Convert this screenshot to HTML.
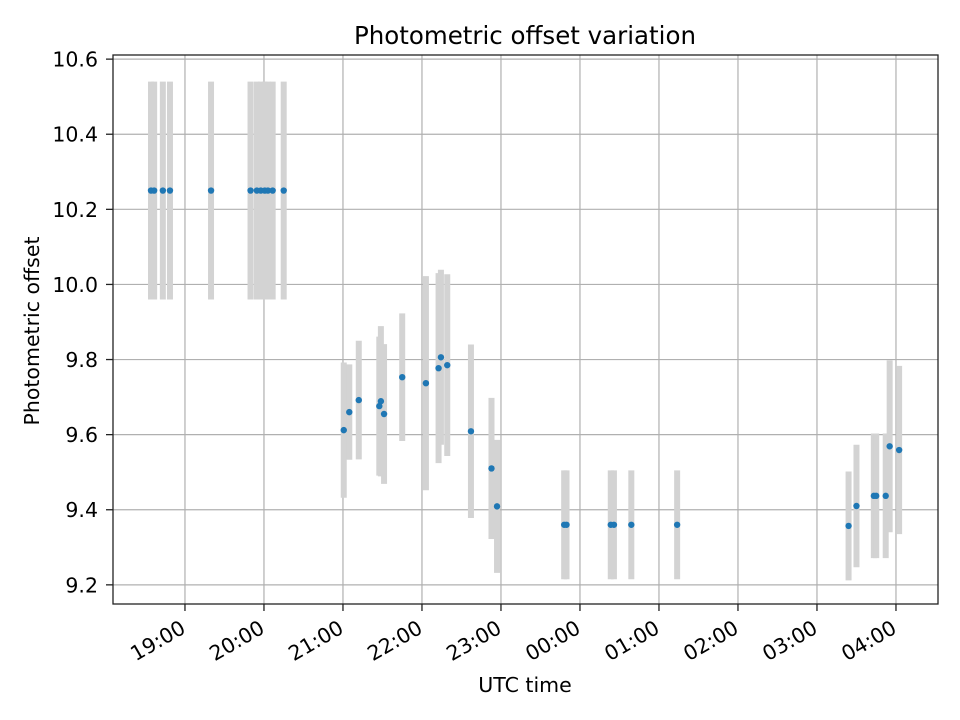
<!DOCTYPE html>
<html><head><meta charset="utf-8"><style>body{margin:0;background:#fff}svg{display:block;font-family:"DejaVu Sans","Liberation Sans",sans-serif}</style></head>
<body>
<svg id="chart" width="960" height="720" viewBox="0 0 960 720" xmlns="http://www.w3.org/2000/svg">
<rect width="960" height="720" fill="#fff"/>
<g id="grid"></g>
<g id="bars"></g>
<g id="pts"></g>
<rect x="113" y="55" width="825" height="549" fill="none" stroke="#222" stroke-width="1.3"/>
<g id="ticks"></g>
<text x="525" y="44" text-anchor="middle" font-size="24.5">Photometric offset variation</text>
<text x="525" y="692" text-anchor="middle" font-size="20.5">UTC time</text>
<text transform="translate(39,331) rotate(-90)" text-anchor="middle" font-size="20.5">Photometric offset</text>
</svg>
<script>
// times in hours since previous-day 00:00 (values >24 are after midnight)
const times=[18.57,18.61,18.72,18.81,19.33,19.83,19.91,19.96,20.01,20.05,20.11,20.25,
21.01,21.08,21.2,21.46,21.48,21.52,21.75,22.05,22.21,22.24,22.32,22.62,22.88,22.95,
23.8,23.83,24.39,24.43,24.65,25.23,
27.4,27.5,27.72,27.75,27.87,27.92,28.04];
const offsets=[10.25,10.25,10.25,10.25,10.25,10.25,10.25,10.25,10.25,10.25,10.25,10.25,
9.612,9.66,9.692,9.676,9.689,9.655,9.753,9.737,9.777,9.806,9.785,9.609,9.51,9.409,
9.36,9.36,9.36,9.36,9.36,9.36,
9.357,9.41,9.437,9.437,9.437,9.569,9.559];
const errors=[0.29,0.29,0.29,0.29,0.29,0.29,0.29,0.29,0.29,0.29,0.29,0.29,
0.18,0.127,0.158,0.185,0.2,0.186,0.17,0.285,0.253,0.233,0.242,0.231,0.188,0.177,
0.145,0.145,0.145,0.145,0.145,0.145,
0.145,0.163,0.166,0.166,0.166,0.229,0.224];
const xTickHours=[19,20,21,22,23,24,25,26,27,28];
const xTickLabels=["19:00","20:00","21:00","22:00","23:00","00:00","01:00","02:00","03:00","04:00"];
const yTicks=[9.2,9.4,9.6,9.8,10.0,10.2,10.4,10.6];
const yTickLabels=["9.2","9.4","9.6","9.8","10.0","10.2","10.4","10.6"];

const L=113,R=938,T=55,B=604;
const xMin=18.089,xMax=28.532,yMin=9.149,yMax=10.611;
const X=h=>L+(h-xMin)/(xMax-xMin)*(R-L);
const Y=v=>B-(v-yMin)/(yMax-yMin)*(B-T);
const NS="http://www.w3.org/2000/svg";
function mk(tag,attrs,parent){const e=document.createElementNS(NS,tag);for(const k in attrs)e.setAttribute(k,attrs[k]);document.getElementById(parent).appendChild(e);return e;}
xTickHours.forEach((h,i)=>{
  const x=X(h);
  const g=mk('line',{x1:x,x2:x,y1:T,y2:B,stroke:'#b0b0b0','stroke-width':1.2},'grid');
  
  
  const t=mk('line',{x1:x,x2:x,y1:B,y2:B+7,stroke:'#222','stroke-width':1.3},'ticks');
  
  
  const lb=mk('text',{transform:`translate(${x+2},${B+28}) rotate(-30)`,'text-anchor':'end','font-size':20.5},'ticks');
  lb.textContent=xTickLabels[i];
  
  
});
yTicks.forEach((v,i)=>{
  const y=Y(v);
  const g=mk('line',{x1:L,x2:R,y1:y,y2:y,stroke:'#b0b0b0','stroke-width':1.2},'grid');
  
  
  const t=mk('line',{x1:L-7,x2:L,y1:y,y2:y,stroke:'#222','stroke-width':1.3},'ticks');
  
  
  const lb=mk('text',{x:L-15,y:y+7.5,'text-anchor':'end','font-size':20.5},'ticks');
  lb.textContent=yTickLabels[i];
  
  
});
times.forEach((h,i)=>{
  const x=X(h);
  const b=mk('line',{x1:x,x2:x,y1:Y(offsets[i]+errors[i]),y2:Y(offsets[i]-errors[i]),stroke:'#d3d3d3','stroke-width':6},'bars');
  
  
});
times.forEach((h,i)=>{
  const c=mk('circle',{cx:X(h),cy:Y(offsets[i]),r:3.2,fill:'#1f77b4'},'pts');
  
  
});
</script>
</body></html>
